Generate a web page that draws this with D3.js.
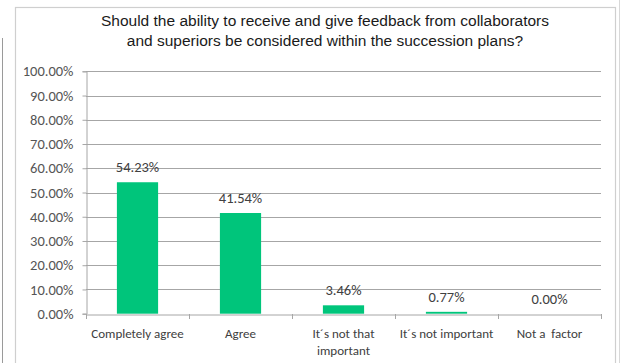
<!DOCTYPE html>
<html>
<head>
<meta charset="utf-8">
<script src="https://cdn.jsdelivr.net/npm/d3@7"></script>
<style>
  html, body { margin: 0; padding: 0; background: #fff; }
  svg { display: block; }
  text { white-space: pre; }
</style>
</head>
<body>
<svg id="chart" width="623" height="363"></svg>
<script>
// Survey answers and their shares (percent)
const categories = ["Completely agree", "Agree", "It´s not that important", "It´s not important", "Not a  factor"];
const categoryLines = [["Completely agree"], ["Agree"], ["It´s not that", "important"], ["It´s not important"], ["Not a  factor"]];
const values = [54.23, 41.54, 3.46, 0.77, 0.00];
const yTicks = [0, 10, 20, 30, 40, 50, 60, 70, 80, 90, 100];
const titleLines = [
  "Should the ability to receive and give feedback from collaborators",
  "and superiors be considered within the succession plans?"
];

const svg = d3.select("#chart");
const bodyFont = "Carlito, Calibri, Lato, 'Open Sans', sans-serif";

// outer page edges and chart frame
svg.append("line").attr("x1", 2.5).attr("x2", 2.5).attr("y1", 38).attr("y2", 363)
  .attr("stroke", "#9a9a9a").attr("stroke-width", 1);
svg.append("line").attr("x1", 619.5).attr("x2", 619.5).attr("y1", 0).attr("y2", 363)
  .attr("stroke", "#d8d8d8").attr("stroke-width", 1);
svg.append("rect").attr("x", 15.5).attr("y", 7.5).attr("width", 600).attr("height", 370)
  .attr("fill", "#fff").attr("stroke", "#cfcfcf").attr("stroke-width", 1.2);

const plot = { left: 86, right: 601, top: 71.3, bottom: 313.7 };

const x = d3.scaleBand().domain(categories)
  .range([plot.left, plot.right]).paddingInner(0.6).paddingOuter(0.3);
const xCat = d3.scaleBand().domain(categories).range([plot.left, plot.right]).padding(0);
const y = d3.scaleLinear().domain([0, 100]).range([plot.bottom, plot.top]);

// horizontal gridlines
svg.append("g").selectAll("line").data(yTicks.filter(d => d > 0)).join("line")
  .attr("x1", plot.left).attr("x2", plot.right)
  .attr("y1", d => Math.round(y(d)) + 0.5).attr("y2", d => Math.round(y(d)) + 0.5)
  .attr("stroke", "#a6a6a6").attr("stroke-width", 1);

// y axis
const yAxis = svg.append("g").attr("transform", `translate(${plot.left + 0.5},0)`)
  .call(d3.axisLeft(y).tickValues(yTicks).tickSize(4).tickPadding(9)
    .tickFormat(d => d.toFixed(2) + "%"));
yAxis.select(".domain").attr("stroke", "#a6a6a6");
yAxis.selectAll(".tick line").attr("stroke", "#a6a6a6");
yAxis.selectAll(".tick text").attr("fill", "#555").style("font-family", bodyFont).style("font-size", "14.5px");

// bars
svg.append("g").selectAll("rect").data(values).join("rect")
  .attr("x", (d, i) => x(categories[i]))
  .attr("width", x.bandwidth())
  .attr("y", d => y(d))
  .attr("height", d => y(0) - y(d))
  .attr("fill", "#00c57b");

// x axis
const xAxis = svg.append("g").attr("transform", `translate(0,${Math.round(plot.bottom) + 0.5})`)
  .call(d3.axisBottom(xCat).tickSize(0).tickFormat(""));
xAxis.select(".domain").attr("stroke", "#a6a6a6");
xAxis.selectAll(".tick").remove();
svg.append("g").selectAll("line").data(d3.range(categories.length + 1)).join("line")
  .attr("x1", i => Math.round(plot.left + i * xCat.step()) + 0.5)
  .attr("x2", i => Math.round(plot.left + i * xCat.step()) + 0.5)
  .attr("y1", Math.round(plot.bottom)).attr("y2", Math.round(plot.bottom) + 5)
  .attr("stroke", "#a6a6a6");

// category labels
svg.append("g").selectAll("text").data(categoryLines).join("text")
  .attr("x", (d, i) => xCat(categories[i]) + xCat.bandwidth() / 2)
  .attr("y", 338)
  .attr("text-anchor", "middle")
  .attr("fill", "#404040")
  .style("font-family", bodyFont).style("font-size", "13px")
  .each(function(lines) {
    const t = d3.select(this);
    lines.forEach((l, k) => t.append("tspan")
      .attr("x", t.attr("x")).attr("dy", k === 0 ? 0 : 16.5).text(l));
  });

// value labels
svg.append("g").selectAll("text").data(values).join("text")
  .attr("x", (d, i) => x(categories[i]) + x.bandwidth() / 2)
  .attr("y", d => y(d) - 10)
  .attr("text-anchor", "middle")
  .attr("fill", "#404040")
  .style("font-family", bodyFont).style("font-size", "14.5px")
  .text(d => d.toFixed(2) + "%");

// title
svg.append("g").selectAll("text").data(titleLines).join("text")
  .attr("x", 325).attr("y", (d, i) => 25.5 + i * 20)
  .attr("text-anchor", "middle")
  .attr("fill", "#1a1a1a")
  .style("font-family", "'Liberation Sans', Arial, Helvetica, sans-serif")
  .style("font-size", "15.5px")
  .text(d => d);
</script>
</body>
</html>
